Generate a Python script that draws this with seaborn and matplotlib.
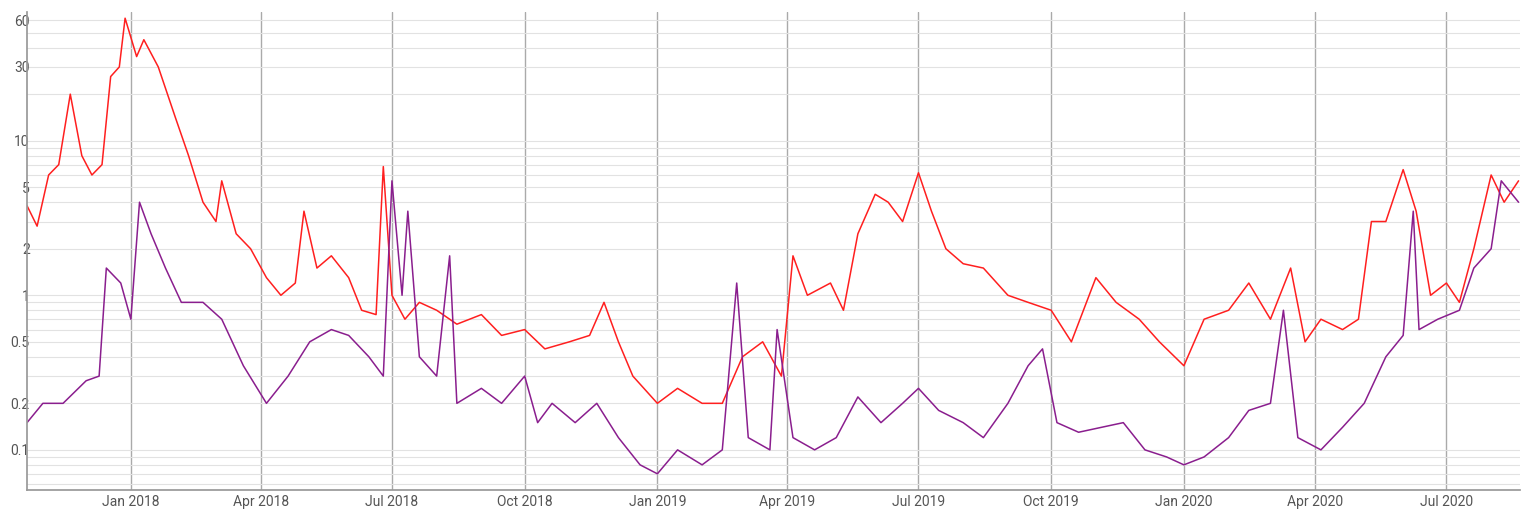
import matplotlib
matplotlib.use("Agg")
import matplotlib.pyplot as plt
import matplotlib.dates as mdates
from matplotlib.ticker import FixedLocator, FixedFormatter, LogLocator, NullFormatter
import seaborn as sns
import pandas as pd

sns.set_theme(style="white")
plt.rcParams["font.family"] = ["Roboto", "DejaVu Sans"]

red_dates = ["2017-10-21", "2017-10-28", "2017-11-05", "2017-11-12", "2017-11-20", "2017-11-28",
             "2017-12-05", "2017-12-12", "2017-12-18", "2017-12-24", "2017-12-28", "2018-01-05",
             "2018-01-10", "2018-01-20", "2018-02-01", "2018-02-10", "2018-02-20", "2018-03-01",
             "2018-03-05", "2018-03-15", "2018-03-25", "2018-04-05", "2018-04-15", "2018-04-25",
             "2018-05-01", "2018-05-10", "2018-05-20", "2018-06-01", "2018-06-10", "2018-06-20",
             "2018-06-25", "2018-07-01", "2018-07-10", "2018-07-20", "2018-08-01", "2018-08-15",
             "2018-09-01", "2018-09-15", "2018-10-01", "2018-10-15", "2018-11-01", "2018-11-15",
             "2018-11-25", "2018-12-05", "2018-12-15", "2019-01-01", "2019-01-15", "2019-02-01",
             "2019-02-15", "2019-03-01", "2019-03-15", "2019-03-28", "2019-04-05", "2019-04-15",
             "2019-05-01", "2019-05-10", "2019-05-20", "2019-06-01", "2019-06-10", "2019-06-20",
             "2019-07-01", "2019-07-10", "2019-07-20", "2019-08-01", "2019-08-15", "2019-09-01",
             "2019-09-15", "2019-10-01", "2019-10-15", "2019-11-01", "2019-11-15", "2019-12-01",
             "2019-12-15", "2020-01-01", "2020-01-15", "2020-02-01", "2020-02-15", "2020-03-01",
             "2020-03-15", "2020-03-25", "2020-04-05", "2020-04-20", "2020-05-01", "2020-05-10",
             "2020-05-20", "2020-06-01", "2020-06-10", "2020-06-20", "2020-07-01", "2020-07-10",
             "2020-07-20", "2020-08-01", "2020-08-10", "2020-08-20"]
red_values = [3.8, 2.8, 6, 7, 20, 8, 6, 7, 26, 30, 62, 35, 45, 30, 14, 8, 4, 3, 5.5, 2.5, 2,
              1.3, 1.0, 1.2, 3.5, 1.5, 1.8, 1.3, 0.8, 0.75, 6.8, 1.0, 0.7, 0.9, 0.8, 0.65,
              0.75, 0.55, 0.6, 0.45, 0.5, 0.55, 0.9, 0.5, 0.3, 0.2, 0.25, 0.2, 0.2, 0.4, 0.5,
              0.3, 1.8, 1.0, 1.2, 0.8, 2.5, 4.5, 4, 3, 6.2, 3.5, 2, 1.6, 1.5, 1.0, 0.9, 0.8,
              0.5, 1.3, 0.9, 0.7, 0.5, 0.35, 0.7, 0.8, 1.2, 0.7, 1.5, 0.5, 0.7, 0.6, 0.7, 3,
              3, 6.5, 3.5, 1.0, 1.2, 0.9, 2, 6, 4, 5.5]

purple_dates = ["2017-10-21", "2017-11-01", "2017-11-15", "2017-12-01", "2017-12-10", "2017-12-15",
                "2017-12-25", "2018-01-01", "2018-01-07", "2018-01-15", "2018-01-25", "2018-02-05",
                "2018-02-20", "2018-03-05", "2018-03-20", "2018-04-05", "2018-04-20", "2018-05-05",
                "2018-05-20", "2018-06-01", "2018-06-15", "2018-06-25", "2018-07-01", "2018-07-08",
                "2018-07-12", "2018-07-20", "2018-08-01", "2018-08-10", "2018-08-15", "2018-09-01",
                "2018-09-15", "2018-10-01", "2018-10-10", "2018-10-20", "2018-11-05", "2018-11-20",
                "2018-12-05", "2018-12-20", "2019-01-01", "2019-01-15", "2019-02-01", "2019-02-15",
                "2019-02-25", "2019-03-05", "2019-03-20", "2019-03-25", "2019-04-05", "2019-04-20",
                "2019-05-05", "2019-05-20", "2019-06-05", "2019-06-20", "2019-07-01", "2019-07-15",
                "2019-08-01", "2019-08-15", "2019-09-01", "2019-09-15", "2019-09-25", "2019-10-05",
                "2019-10-20", "2019-11-05", "2019-11-20", "2019-12-05", "2019-12-20", "2020-01-01",
                "2020-01-15", "2020-02-01", "2020-02-15", "2020-03-01", "2020-03-10", "2020-03-20",
                "2020-04-05", "2020-04-20", "2020-05-05", "2020-05-20", "2020-06-01", "2020-06-08",
                "2020-06-12", "2020-06-25", "2020-07-10", "2020-07-20", "2020-08-01", "2020-08-08",
                "2020-08-20"]
purple_values = [0.15, 0.2, 0.2, 0.28, 0.3, 1.5, 1.2, 0.7, 4.0, 2.5, 1.5, 0.9, 0.9, 0.7, 0.35,
                 0.2, 0.3, 0.5, 0.6, 0.55, 0.4, 0.3, 5.5, 1.0, 3.5, 0.4, 0.3, 1.8, 0.2, 0.25,
                 0.2, 0.3, 0.15, 0.2, 0.15, 0.2, 0.12, 0.08, 0.07, 0.1, 0.08, 0.1, 1.2, 0.12,
                 0.1, 0.6, 0.12, 0.1, 0.12, 0.22, 0.15, 0.2, 0.25, 0.18, 0.15, 0.12, 0.2, 0.35,
                 0.45, 0.15, 0.13, 0.14, 0.15, 0.1, 0.09, 0.08, 0.09, 0.12, 0.18, 0.2, 0.8, 0.12,
                 0.1, 0.14, 0.2, 0.4, 0.55, 3.5, 0.6, 0.7, 0.8, 1.5, 2, 5.5, 4]

y_ticks = [0.1, 0.2, 0.5, 1, 2, 5, 10, 30, 60]

red = pd.DataFrame({"date": pd.to_datetime(red_dates), "value": red_values})
purple = pd.DataFrame({"date": pd.to_datetime(purple_dates), "value": purple_values})

fig = plt.figure(figsize=(15.3, 5.2), dpi=100)
ax = fig.add_axes([27 / 1530, 30 / 520, 1493 / 1530, 478 / 520])

sns.lineplot(data=red, x="date", y="value", ax=ax, color="#ff1f1f", linewidth=1.1)
sns.lineplot(data=purple, x="date", y="value", ax=ax, color="#8a1e8e", linewidth=1.1)

ax.set_yscale("log")
ax.set_ylim(0.055, 68)
ax.set_xlim(pd.Timestamp("2017-10-21"), pd.Timestamp("2020-08-21"))
ax.yaxis.set_major_locator(FixedLocator(y_ticks))
ax.yaxis.set_major_formatter(FixedFormatter([f"{v:g}" for v in y_ticks]))
ax.yaxis.set_minor_locator(LogLocator(base=10, subs=range(1, 10)))
ax.yaxis.set_minor_formatter(NullFormatter())
ax.grid(True, which="both", axis="y", color="#e2e2e2", linewidth=0.8)
ax.xaxis.set_major_locator(mdates.MonthLocator(bymonth=[1, 4, 7, 10]))
ax.xaxis.set_major_formatter(mdates.DateFormatter("%b %Y"))
ax.grid(True, which="major", axis="x", color="#aaaaaa", linewidth=1)
ax.set_xlabel("")
ax.set_ylabel("")
ax.tick_params(axis="both", labelsize=10, colors="#555555", length=0)
for s in ["top", "right"]:
    ax.spines[s].set_visible(False)
for s in ["left", "bottom"]:
    ax.spines[s].set_color("#999999")
ax.yaxis.set_tick_params(pad=-2)

fig.savefig("out.png", dpi=100)
